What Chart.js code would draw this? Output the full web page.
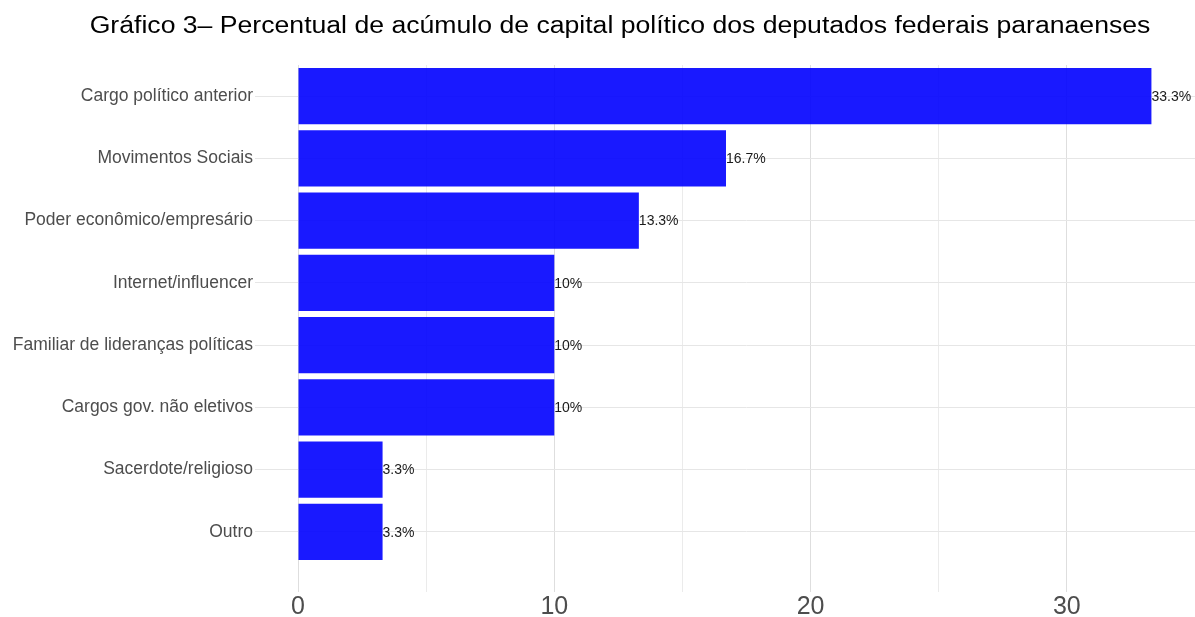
<!DOCTYPE html>
<html>
<head>
<meta charset="utf-8">
<script src="https://cdn.jsdelivr.net/npm/chart.js@4"></script>
<style>
html,body{margin:0;padding:0;background:#fff}
#wrap{width:1195px;height:617px;position:relative}
</style>
</head>
<body>
<div id="wrap"><canvas id="myChart"></canvas></div>
<script>
const categories=[
  'Cargo político anterior',
  'Movimentos Sociais',
  'Poder econômico/empresário',
  'Internet/influencer',
  'Familiar de lideranças políticas',
  'Cargos gov. não eletivos',
  'Sacerdote/religioso',
  'Outro'
]
const percentages=[33.3,16.7,13.3,10,10,10,3.3,3.3]
const valueLabels=['33.3%','16.7%','13.3%','10%','10%','10%','3.3%','3.3%']
const xTicks=[0,10,20,30]
const chartTitle='Gráfico 3– Percentual de acúmulo de capital político dos deputados federais paranaenses'

// title is drawn by hand, the original one is a bit wider than the font
const titlePlugin={
  id:'titlePlugin',
  afterDraw(chart){
    const ctx=chart.ctx
    ctx.save()
    ctx.font='23px "Liberation Sans", Arial, sans-serif'
    ctx.fillStyle='#000'
    ctx.textAlign='center'
    ctx.textBaseline='alphabetic'
    ctx.translate(620,33)
    ctx.scale(1.157,1)
    ctx.fillText(chartTitle,0,0)
    ctx.restore()
  }
}

const barLabels={
  id:'barLabels',
  afterDatasetsDraw(chart){
    const ctx=chart.ctx
    const meta=chart.getDatasetMeta(0)
    ctx.save()
    ctx.font='14px "Liberation Sans", Arial, sans-serif'
    ctx.fillStyle='#1a1a1a'
    ctx.textAlign='left'
    ctx.textBaseline='middle'
    meta.data.forEach((bar,i)=>{
      ctx.fillText(valueLabels[i],bar.x,bar.y+1)
    })
    ctx.restore()
  }
}

Chart.defaults.font.family='"Liberation Sans", Arial, sans-serif'
const ctx=document.getElementById('myChart')
new Chart(ctx,{
  type:'bar',
  data:{
    labels:categories,
    datasets:[{
      data:percentages,
      backgroundColor:'rgba(0,0,255,0.9)',
      borderWidth:0,
      barPercentage:1,
      categoryPercentage:0.9
    }]
  },
  plugins:[titlePlugin,barLabels],
  options:{
    indexAxis:'y',
    responsive:true,
    maintainAspectRatio:false,
    animation:false,
    layout:{padding:{top:65,right:0,left:0,bottom:0}},
    plugins:{
      legend:{display:false},
      tooltip:{enabled:false}
    },
    scales:{
      x:{
        type:'linear',
        min:0,
        max:35,
        border:{display:false},
        afterFit(scale){scale.height=54},
        afterBuildTicks(scale){
          scale.ticks=[0,5,10,15,20,25,30,35].map(v=>({value:v}))
        },
        grid:{
          color:c=>c.tick&&c.tick.value===35?'rgba(0,0,0,0)':(c.tick&&xTicks.includes(c.tick.value)?'#dedede':'#ebebeb'),
          tickLength:29,
          drawTicks:true
        },
        ticks:{
          color:'#4d4d4d',
          font:{size:25},
          padding:0,
          callback:v=>xTicks.includes(v)?String(v):''
        }
      },
      y:{
        border:{display:false},
        afterFit(scale){scale.width=298},
        grid:{
          offset:false,
          color:'#e6e6e6',
          tickLength:43
        },
        ticks:{
          color:'#4d4d4d',
          font:{size:17.5},
          padding:2
        }
      }
    }
  }
})
</script>
</body>
</html>
